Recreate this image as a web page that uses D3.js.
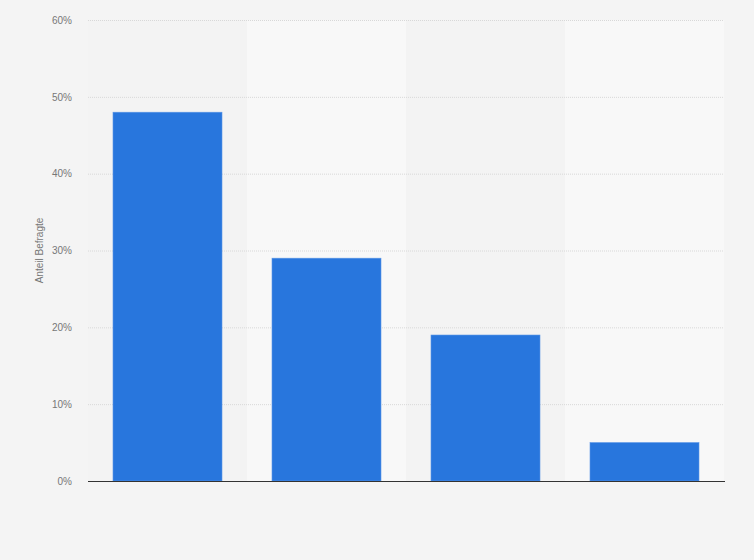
<!DOCTYPE html>
<html>
<head>
<meta charset="utf-8">
<script src="https://cdn.jsdelivr.net/npm/d3@7"></script>
<style>
  body { margin: 0; background: #f4f4f4; }
  svg { display: block; font-family: "Liberation Sans", Arial, sans-serif; }
</style>
</head>
<body>
<div id="chart"></div>
<script>
// chart values
const categories = ["Kategorie 1", "Kategorie 2", "Kategorie 3", "Kategorie 4"];
const shares = [48, 29, 19, 5];
const yTicks = [0, 10, 20, 30, 40, 50, 60];

const width = 754, height = 560;
const margin = { top: 20, right: 30, bottom: 79, left: 88 };

const svg = d3.select("#chart")
    .append("svg")
    .attr("width", width)
    .attr("height", height);

svg.append("rect")
    .attr("width", width)
    .attr("height", height)
    .attr("fill", "#f4f4f4");

const xScale = d3.scaleBand()
    .domain(categories)
    .range([margin.left, width - margin.right])
    .paddingInner(0)
    .paddingOuter(0);

const yScale = d3.scaleLinear()
    .domain([0, 60])
    .range([height - margin.bottom, margin.top]);

// alternating column backgrounds
svg.selectAll(".band")
    .data(categories)
    .enter()
    .append("rect")
    .attr("class", "band")
    .attr("x", d => xScale(d))
    .attr("y", margin.top)
    .attr("width", xScale.bandwidth())
    .attr("height", yScale(0) - margin.top)
    .attr("fill", (d, i) => i % 2 ? "#f8f8f8" : "#f3f3f3");

// grid lines
svg.selectAll(".grid")
    .data(yTicks.filter(d => d > 0))
    .enter()
    .append("line")
    .attr("x1", margin.left)
    .attr("x2", width - margin.right)
    .attr("y1", d => yScale(d) + 0.5)
    .attr("y2", d => yScale(d) + 0.5)
    .attr("stroke", "#d8d8d8")
    .attr("stroke-dasharray", "1,1");

// y axis
const yAxis = svg.append("g")
    .attr("transform", `translate(${margin.left - 13},0)`)
    .call(d3.axisLeft(yScale).tickValues(yTicks).tickSize(0).tickFormat(d => d + "%"));
yAxis.select(".domain").remove();
yAxis.selectAll("text")
    .attr("fill", "#777")
    .attr("font-size", 10);

svg.append("text")
    .attr("transform", `translate(43,${(margin.top + yScale(0)) / 2}) rotate(-90)`)
    .attr("text-anchor", "middle")
    .attr("font-size", 10)
    .attr("fill", "#777")
    .text("Anteil Befragte");

// bars
const barPad = 25;
svg.selectAll(".bar")
    .data(shares)
    .enter()
    .append("rect")
    .attr("class", "bar")
    .attr("x", (d, i) => xScale(categories[i]) + barPad)
    .attr("y", d => yScale(d))
    .attr("width", xScale.bandwidth() - 2 * barPad)
    .attr("height", d => yScale(0) - yScale(d))
    .attr("fill", "#2876dd")
    .attr("stroke", "#5a96e6")
    .attr("stroke-width", 0.6);

// x axis baseline
svg.append("line")
    .attr("x1", margin.left)
    .attr("x2", width - margin.right + 1)
    .attr("y1", yScale(0) + 0.5)
    .attr("y2", yScale(0) + 0.5)
    .attr("stroke", "#333")
    .attr("stroke-width", 1.2);
</script>
</body>
</html>
